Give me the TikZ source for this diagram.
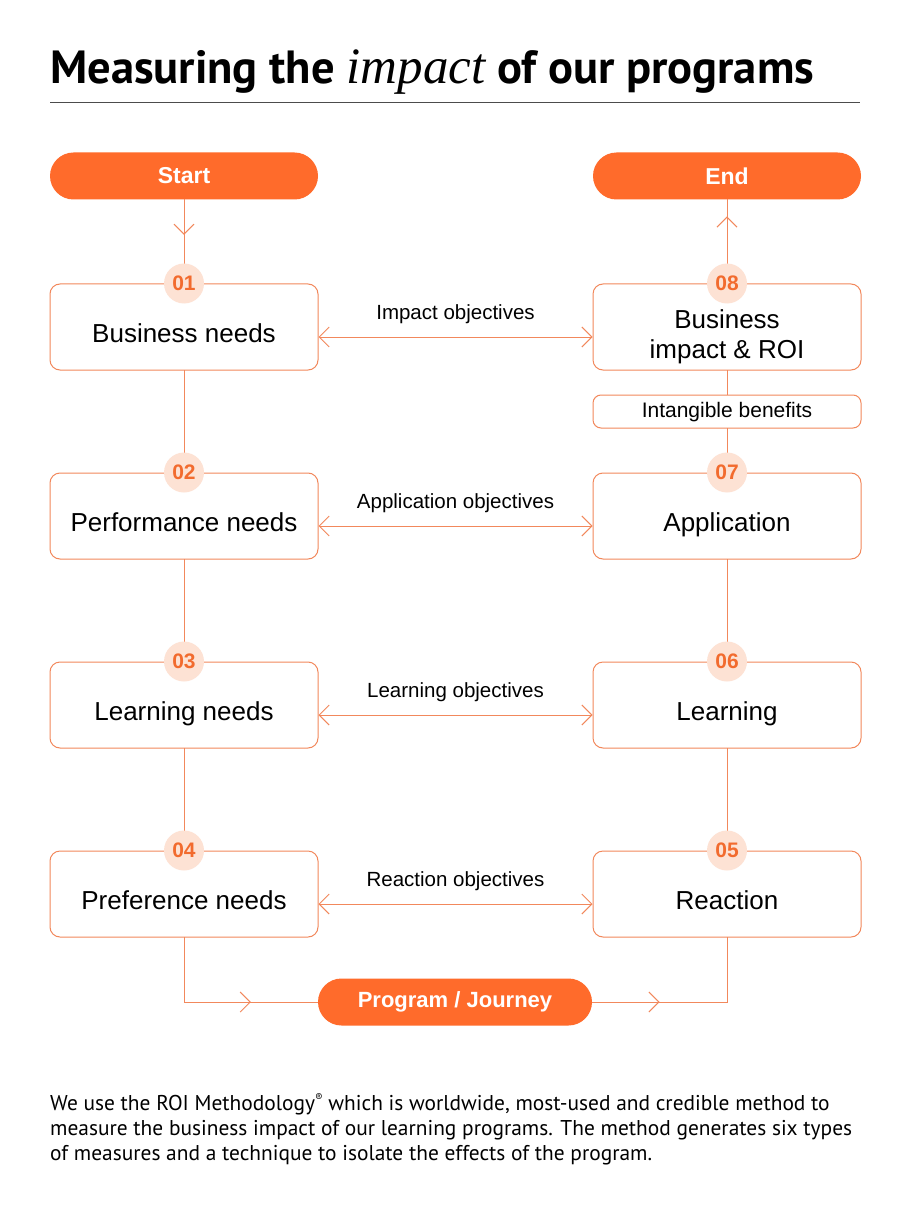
\documentclass[tikz,border=0pt]{standalone}
\usepackage{fontspec}
\setmainfont{Liberation Sans}
\newfontfamily\headfont{PT Sans}
\newfontfamily\serifit{Liberation Serif}
\usetikzlibrary{arrows.meta, decorations.markings, positioning}

\definecolor{brand}{HTML}{FF6B2B}
\definecolor{wire}{HTML}{F2885C}
\definecolor{peach}{HTML}{FDE2D4}
\definecolor{badgetxt}{HTML}{F26B2E}

\begin{document}
\begin{tikzpicture}[x=1pt, y=-1pt,
    box/.style={draw=wire, line width=1pt, rounded corners=10pt, minimum width=268pt,
      minimum height=86pt, align=center, text height=30pt, text depth=0pt,
      font=\fontsize{26}{30}\selectfont},
    pill/.style={fill=brand, rounded corners=23.5pt, minimum width=268pt, minimum height=47pt,
      text=white, font=\fontsize{23}{26}\selectfont\bfseries},
    badge/.style={circle, fill=peach, minimum size=40pt, inner sep=0pt, text=badgetxt,
      font=\fontsize{21}{24}\selectfont\bfseries},
    link/.style={draw=wire, line width=1pt, line cap=rect},
    tip/.tip={Straight Barb[length=10pt, width=20pt, line width=1pt]},
    both/.style={link, line cap=butt, tip-tip},
    midarrow/.style={link, postaction={decorate}, decoration={markings,
      mark=at position #1 with {\arrow[wire]{tip}}}},
    midarrow/.default=0.5,
    objlabel/.style={font=\fontsize{20.5}{24}\selectfont, yshift=23pt}]
  \useasboundingbox (0,0) rectangle (910,1214);
  \fill[white] (0,0) rectangle (910,1214);

  % heading
  \node[anchor=base west, inner sep=0pt, font=\headfont\bfseries\fontsize{46.5}{50}\selectfont] (title) at (50,84)
    {Measuring the {\serifit\mdseries\itshape\fontsize{51}{50}\selectfont impact} of our programs};
  \draw[line width=1pt, black!70] (50,103) -- (860,103);

  % start / end
  \node[pill] (start) at (184,176) {Start};
  \node[pill] (end) at (727,176) {End};

  % left column
  \node[box] (n1) at (184,327) {Business needs};
  \node[box] (n2) at (184,516) {Performance needs};
  \node[box] (n3) at (184,705) {Learning needs};
  \node[box] (n4) at (184,894) {Preference needs};

  % right column
  \node[box, text height=62pt, text depth=0pt] (n8) at (727,327) {Business\\impact \& ROI};
  \node[box, minimum height=33pt, rounded corners=8pt, text height=15pt, text depth=4pt,
    font=\fontsize{21}{24}\selectfont] (ib) at (727,411.5) {Intangible benefits};
  \node[box] (n7) at (727,516) {Application};
  \node[box] (n6) at (727,705) {Learning};
  \node[box] (n5) at (727,894) {Reaction};

  \node[pill, minimum width=274pt, font=\fontsize{22}{26}\selectfont\bfseries] (prog) at (455,1002) {Program / Journey};
  \coordinate (c4) at (184,1002);
  \coordinate (c5) at (727,1002);

  % vertical links
  \draw[midarrow=0.42] (start) -- (n1);
  \draw[link] (n1) -- (n2);
  \draw[link] (n2) -- (n3);
  \draw[link] (n3) -- (n4);
  \draw[midarrow=0.8] (n8) -- (end);
  \draw[link] (n8) -- (ib);
  \draw[link] (ib) -- (n7);
  \draw[link] (n7) -- (n6);
  \draw[link] (n6) -- (n5);
  \draw[link] (n4) -- (c4);
  \draw[midarrow] (c4) -- (prog);
  \draw[midarrow] (prog) -- (c5);
  \draw[link] (c5) -- (n5);

  % objectives
  \draw[both] ([yshift=-10pt]n1.east) -- ([yshift=-10pt]n8.west) node[midway, objlabel] {Impact objectives};
  \draw[both] ([yshift=-10pt]n2.east) -- ([yshift=-10pt]n7.west) node[midway, objlabel] {Application objectives};
  \draw[both] ([yshift=-10pt]n3.east) -- ([yshift=-10pt]n6.west) node[midway, objlabel] {Learning objectives};
  \draw[both] ([yshift=-10pt]n4.east) -- ([yshift=-10pt]n5.west) node[midway, objlabel] {Reaction objectives};

  % step numbers
  \foreach \n in {1,...,8}
    \node[badge] (b\n) at (n\n.north) {0\n};

  % note
  \node[anchor=north west, inner sep=0pt, align=left, font=\headfont\fontsize{21.4}{25}\selectfont] (note) at (50,1093)
    {We use the ROI Methodology\raisebox{0.45em}{\fontsize{11}{11}\selectfont\textregistered} which is worldwide, most-used and credible method to\\
     measure the business impact of our learning programs. The method generates six types\\
     of measures and a technique to isolate the effects of the program.};
\end{tikzpicture}
\end{document}
